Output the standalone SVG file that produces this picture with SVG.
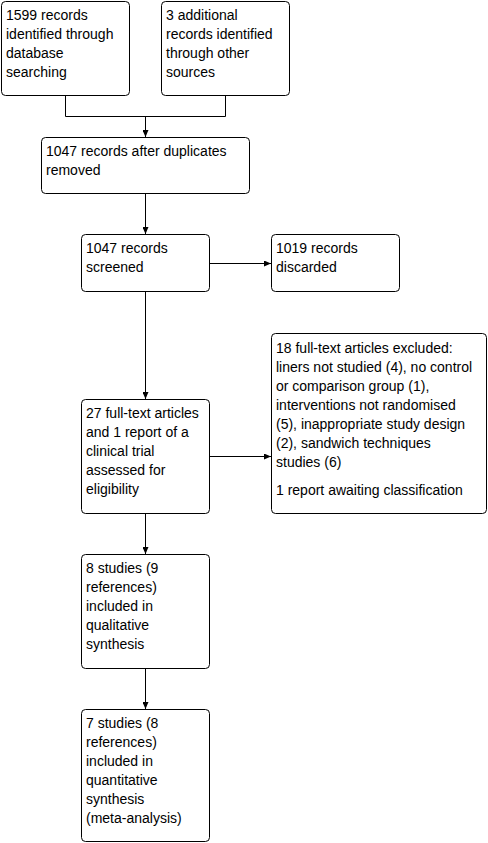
<svg xmlns="http://www.w3.org/2000/svg" width="488" height="843" viewBox="0 0 488 843">
<style>
.box{fill:#fff;stroke:#000;stroke-width:1}
.t{font-family:"Liberation Sans",Arial,sans-serif;font-size:14px;fill:#000}
.c{fill:none;stroke:#000;stroke-width:1}
</style>
<defs>
<marker id="ah" markerUnits="userSpaceOnUse" markerWidth="7" markerHeight="6" refX="7" refY="3" orient="auto">
<path d="M0,0 L7,3 L0,6 z" fill="#000"/>
</marker>
</defs>
<rect width="488" height="843" fill="#fff"/>
<g id="connectors">
<path class="c" d="M65.5,95 V116.5 H225.5 V95"/>
<path class="c" d="M145.5,116.5 V137" marker-end="url(#ah)"/>
<path class="c" d="M145.5,193 V234" marker-end="url(#ah)"/>
<path class="c" d="M209,263.5 H271" marker-end="url(#ah)"/>
<path class="c" d="M145.5,291 V399" marker-end="url(#ah)"/>
<path class="c" d="M209,456.5 H271" marker-end="url(#ah)"/>
<path class="c" d="M145.5,513 V554" marker-end="url(#ah)"/>
<path class="c" d="M145.5,668 V709" marker-end="url(#ah)"/>
</g>
<g id="n1">
<rect class="box" x="1.5" y="1.5" width="128" height="94" rx="4"/>
<text class="t" x="6" y="20">1599 records</text>
<text class="t" x="6" y="39">identified through</text>
<text class="t" x="6" y="58">database</text>
<text class="t" x="6" y="77">searching</text>
</g>
<g id="n2">
<rect class="box" x="161.5" y="1.5" width="128" height="94" rx="4"/>
<text class="t" x="166" y="20">3 additional</text>
<text class="t" x="166" y="39">records identified</text>
<text class="t" x="166" y="58">through other</text>
<text class="t" x="166" y="77">sources</text>
</g>
<g id="n3">
<rect class="box" x="41.5" y="137.5" width="208" height="56" rx="4"/>
<text class="t" x="46" y="156">1047 records after duplicates</text>
<text class="t" x="46" y="175">removed</text>
</g>
<g id="n4">
<rect class="box" x="81.5" y="234.5" width="128" height="57" rx="4"/>
<text class="t" x="86" y="253">1047 records</text>
<text class="t" x="86" y="272">screened</text>
</g>
<g id="n5">
<rect class="box" x="271.5" y="234.5" width="128" height="57" rx="4"/>
<text class="t" x="276" y="253">1019 records</text>
<text class="t" x="276" y="272">discarded</text>
</g>
<g id="n6">
<rect class="box" x="81.5" y="399.5" width="128" height="114" rx="4"/>
<text class="t" x="86" y="418">27 full-text articles</text>
<text class="t" x="86" y="437">and 1 report of a</text>
<text class="t" x="86" y="456">clinical trial</text>
<text class="t" x="86" y="475">assessed for</text>
<text class="t" x="86" y="494">eligibility</text>
</g>
<g id="n7">
<rect class="box" x="271.5" y="333.5" width="215" height="180" rx="4"/>
<text class="t" x="276" y="353">18 full-text articles excluded:</text>
<text class="t" x="276" y="372">liners not studied (4), no control</text>
<text class="t" x="276" y="391">or comparison group (1),</text>
<text class="t" x="276" y="410">interventions not randomised</text>
<text class="t" x="276" y="429">(5), inappropriate study design</text>
<text class="t" x="276" y="448">(2), sandwich techniques</text>
<text class="t" x="276" y="467">studies (6)</text>
<text class="t" x="276" y="495">1 report awaiting classification</text>
</g>
<g id="n8">
<rect class="box" x="81.5" y="554.5" width="128" height="114" rx="4"/>
<text class="t" x="86" y="573">8 studies (9</text>
<text class="t" x="86" y="592">references)</text>
<text class="t" x="86" y="611">included in</text>
<text class="t" x="86" y="630">qualitative</text>
<text class="t" x="86" y="649">synthesis</text>
</g>
<g id="n9">
<rect class="box" x="81.5" y="709.5" width="128" height="132" rx="4"/>
<text class="t" x="86" y="728">7 studies (8</text>
<text class="t" x="86" y="747">references)</text>
<text class="t" x="86" y="766">included in</text>
<text class="t" x="86" y="785">quantitative</text>
<text class="t" x="86" y="804">synthesis</text>
<text class="t" x="86" y="823">(meta-analysis)</text>
</g>
</svg>
